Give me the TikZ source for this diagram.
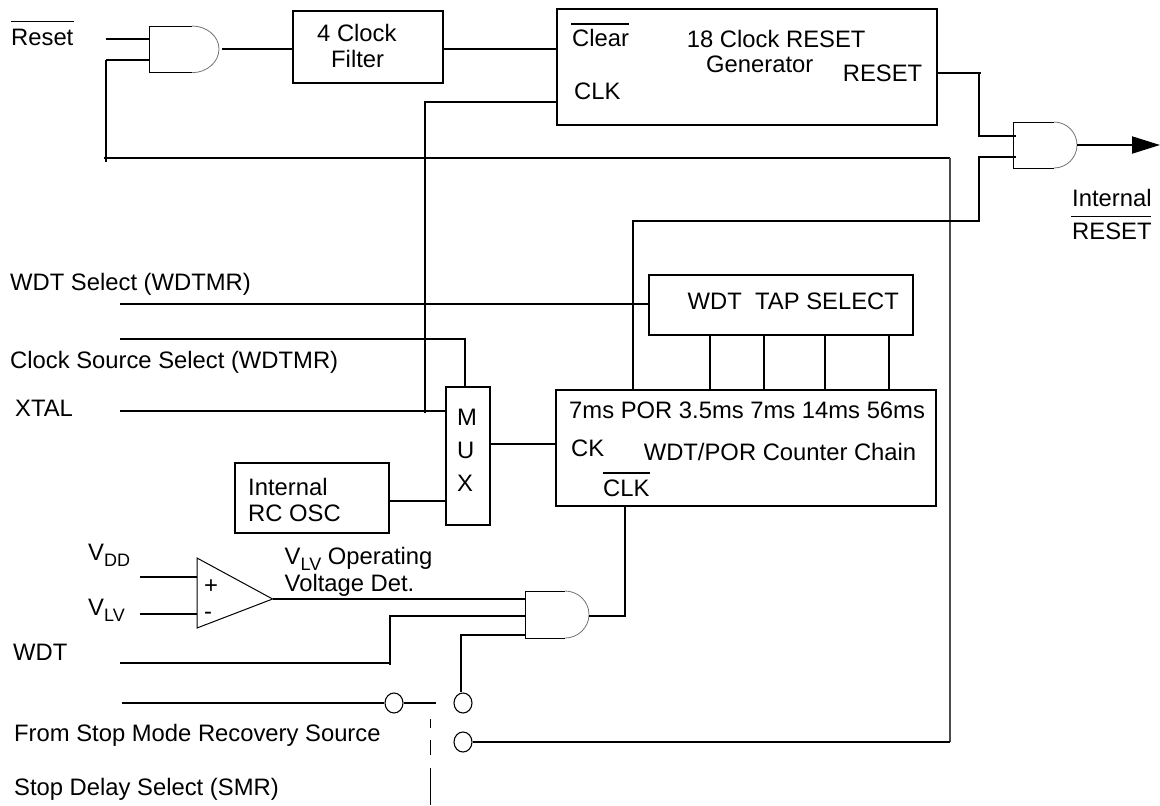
\documentclass[tikz,border=0pt]{standalone}
\usepackage{fontspec}
\setmainfont{Liberation Sans}
\usetikzlibrary{arrows.meta,shapes.geometric}
\tikzset{
  wire/.style={line width=2pt,black},
  thinwire/.style={line width=1.2pt,black!70},
  bar/.style={line width=1.5pt,black},
  blk/.style={draw,line width=2pt,inner sep=0pt,rectangle},
  lbl/.style={anchor=base west,inner sep=0pt,text=black,font=\fontsize{23.8}{26}\selectfont},
  term/.style={draw,ellipse,line width=1.1pt,inner sep=0pt,minimum width=18pt,minimum height=20pt},
}
\newcommand{\andgate}[7]{% name x0 xflat x1 y0 y1 ymid
  \draw[line width=1pt] (#3,#5) -- (#2,#5) -- (#2,#6) -- (#3,#6);
  \pgfmathsetmacro{\ctx}{#3+0.55*(#4-#3)}
  \pgfmathsetmacro{\cty}{#7-0.55*(#7-#5)}
  \pgfmathsetmacro{\ctz}{#7+0.55*(#6-#7)}
  \draw[line width=.8pt,black!55] (#3,#5) .. controls (\ctx,#5) and (#4,\cty) .. (#4,#7) .. controls (#4,\ctz) and (\ctx,#6) .. (#3,#6);
  \coordinate (#1in) at (#2,#7);
  \coordinate (#1out) at (#4,#7);
}
\begin{document}
\begin{tikzpicture}[x=1pt,y=-1pt]
\useasboundingbox (0,0) rectangle (1160,806);
% blocks
\node[blk,minimum width=150pt,minimum height=72pt] (filter) at (368,47) {};
\node[blk,minimum width=380pt,minimum height=116pt] (gen) at (747,67) {};
\node[blk,minimum width=264pt,minimum height=60pt] (tap) at (781,305) {};
\node[blk,minimum width=44pt,minimum height=138pt] (mux) at (468,456) {};
\node[blk,minimum width=380pt,minimum height=116pt] (chain) at (746,448) {};
\node[blk,minimum width=154pt,minimum height=70pt] (rc) at (312,498) {};
% gates
\andgate{ga}{149.5}{192}{219}{26}{72.7}{49}
\andgate{gb}{1013}{1054}{1077}{122}{168}{145}
\andgate{gc}{525}{565}{589}{591}{638}{614.5}
% comparator
\draw[line width=1pt] (197,558) -- (272.6,599) -- (197,628) -- cycle;
\coordinate (cmpout) at (272.6,599);
\node[lbl] (plus) at (204,593) {+};
\node[lbl] (minus) at (204,619) {-};
% terminals
\node[term] (t1) at (394,703) {};
\node[term] (t2) at (463,703) {};
\node[term] (t3) at (463,742) {};
% coordinates
\coordinate (resetA) at (106,39);
\coordinate (resetB) at (106,60);
\coordinate (busW) at (104,157.7);
\coordinate (busE) at (950,157.7);
\coordinate (busS) at (950,742);
\coordinate (clkY) at (425,102);
\coordinate (xtalN) at (425,413);
\coordinate (rstOut) at (981,72.7);
\coordinate (gbA) at (979,136);
\coordinate (gbB) at (979,156.7);
\coordinate (porT) at (633,221);
\coordinate (porB) at (979,221);
\coordinate (tip) at (1160,145);
\coordinate (wsel) at (120,303.7);
\coordinate (csel) at (120,339);
\coordinate (cselE) at (465,339);
\coordinate (xtal) at (120,410.7);
\coordinate (wdtW) at (120,663);
\coordinate (wdtE) at (391,663);
\coordinate (wdtN) at (390,616);
\coordinate (gcC) at (461,635);
\coordinate (stopW) at (122,703);
\coordinate (swE) at (436,703);
\coordinate (vddW) at (140,577);
\coordinate (vddE) at (197,577);
\coordinate (vlvW) at (140,614);
\coordinate (vlvE) at (197,614);
\coordinate (clkIn) at (625,616);
% wires
\draw[wire] (resetA) -- (149.5,39);
\draw[wire] (resetB) -- (149.5,60);
\draw[wire] (106,60) -- (106,162);
\draw[wire] (busW) -- (busE);
\draw[thinwire] (busE) -- (busS);
\draw[wire] (t3.east) -- (busS);
\draw[wire] (222,48.7) -- (filter.west |- 0,48.7);
\draw[wire] (filter.east |- 0,48.7) -- (gen.west |- 0,48.7);
\draw[wire] (gen.west |- clkY) -- (clkY) -- (xtalN);
\draw[wire] (gen.east |- rstOut) -- (rstOut);
\draw[wire] (979,72.7) -- (gbA) -- (1016,136);
\draw[wire] (chain.north -| porT) -- (porT) -- (porB) -- (gbB) -- (1016,156.7);
\draw[wire] (gbout) -- (1132,145);
\draw[wire,-{Triangle[length=28pt,width=17pt]}] (1130,145) -- (tip);
\draw[wire] (wsel) -- (tap.west |- wsel);
\draw[wire] (csel) -- (cselE) -- (cselE |- mux.north);
\draw[wire] (xtal) -- (mux.west |- xtal);
\draw[wire] (rc.east |- 0,500.7) -- (mux.west |- 0,500.7);
\draw[wire] (mux.east |- 0,444.3) -- (chain.west |- 0,444.3);
\foreach \tx in {710,764,825,888.6} \draw[wire] (tap.south -| \tx,0) -- (chain.north -| \tx,0);
\draw[wire] (chain.south -| clkIn) -- (clkIn) -- (gcout |- clkIn);
\draw[wire] (cmpout) -- (525,599);
\draw[wire] (wdtW) -- (wdtE);
\draw[wire] (390,665) -- (wdtN) -- (525,616);
\draw[wire] (t2.north -| gcC) -- (gcC) -- (525,635);
\draw[wire] (stopW) -- (t1.west);
\draw[wire] (t1.east) -- (swE);
\draw[wire] (vddW) -- (vddE);
\draw[wire] (vlvW) -- (vlvE);
% dashed actuator
\coordinate (da) at (430.6,719); \coordinate (db) at (430.6,728);
\coordinate (dc) at (430.6,740); \coordinate (dd) at (430.6,755);
\coordinate (de) at (430.6,768); \coordinate (df) at (430.6,805);
\draw[bar] (da) -- (db); \draw[bar] (dc) -- (dd); \draw[bar] (de) -- (df);
% text
\node[lbl] (tReset) at (11,45) {Reset};
\draw[bar] (11,21.7) -- (74,21.7);
\node[lbl] at (317,41) {4 Clock};
\node[lbl] at (331,67.7) {Filter};
\node[lbl] at (572,46.7) {Clear};
\draw[bar] (571,24) -- (629,24);
\node[lbl] at (574,99) {CLK};
\node[lbl] at (686.7,47) {18 Clock RESET};
\node[lbl] at (706,72.7) {Generator};
\node[lbl] at (842.7,81.7) {RESET};
\node[lbl] at (1072,206.7) {Internal};
\draw[bar] (1071,216.7) -- (1151,216.7);
\node[lbl] at (1072,239) {RESET};
\node[lbl] at (10,290.7) {WDT Select (WDTMR)};
\node[lbl] at (10,368.7) {Clock Source Select (WDTMR)};
\node[lbl] at (15,416.7) {XTAL};
\node[lbl] at (248,495) {Internal};
\node[lbl] at (248,521.7) {RC OSC};
\node[lbl] at (457,425) {M};
\node[lbl] at (457,458) {U};
\node[lbl] at (457,491) {X};
\node[lbl] at (569,418) {7ms POR 3.5ms 7ms 14ms 56ms};
\node[lbl] at (571,456.7) {CK};
\node[lbl] at (643.6,460.7) {WDT/POR Counter Chain};
\node[lbl] at (603,496.7) {CLK};
\draw[bar] (603,473) -- (650,473);
\node[lbl] at (687.5,309) {WDT\hspace{.28em} TAP SELECT};
\node[lbl] at (88,560) {V\raisebox{-6pt}{\fontsize{18}{20}\selectfont DD}};
\node[lbl] at (88,615) {V\raisebox{-6pt}{\fontsize{18}{20}\selectfont LV}};
\node[lbl] at (284.5,564) {V\raisebox{-6pt}{\fontsize{18}{20}\selectfont LV}\ Operating};
\node[lbl] at (284.5,591.7) {Voltage Det.};
\node[lbl] at (13,660.7) {WDT};
\node[lbl] at (14,741) {From Stop Mode Recovery Source};
\node[lbl] at (14,795) {Stop Delay Select (SMR)};
\end{tikzpicture}
\end{document}
